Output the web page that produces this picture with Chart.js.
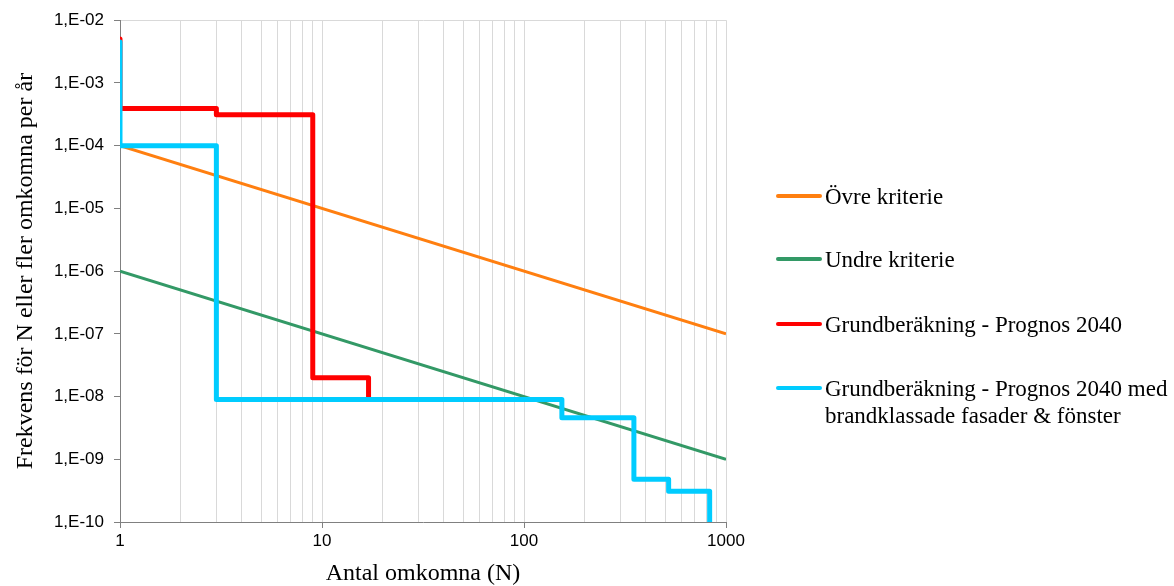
<!DOCTYPE html>
<html>
<head>
<meta charset="utf-8">
<script src="https://cdn.jsdelivr.net/npm/chart.js@4/dist/chart.umd.min.js"></script>
<style>
  html, body { margin: 0; padding: 0; background: #fff; }
  #wrap { position: relative; width: 1174px; height: 586px; }
  canvas { position: absolute; left: 0; top: 0; }
  .leg { position: absolute; left: 776px; font-family: "Liberation Serif", "Times New Roman", serif; font-size: 23px; color: #000; line-height: 27px; }
  .leg .sw { position: absolute; left: 0; width: 46px; height: 4px; border-radius: 2px; }
  .leg .tx { position: absolute; left: 49px; white-space: nowrap; }
</style>
</head>
<body>
<div id="wrap">
  <canvas id="c" width="1174" height="586"></canvas>
</div>
<script>
// ---- data ----
const seriesNames = ["Övre kriterie", "Undre kriterie", "Grundberäkning - Prognos 2040", "Grundberäkning - Prognos 2040 med brandklassade fasader & fönster"];
const seriesColors = ["#FF7F10", "#339966", "#FF0000", "#00CCFF"];

const upperN = [1, 1000];
const upperF = [1e-4, 1e-7];

const lowerN = [1, 1000];
const lowerF = [1e-6, 1e-9];

const baseN = [1, 1, 3, 3, 9, 9, 17, 17];
const baseF = [5e-3, 3.9e-4, 3.9e-4, 3.1e-4, 3.1e-4, 2e-8, 2e-8, 9e-9];

const fireN = [1, 1, 3, 3, 154, 154, 350, 350, 520, 520, 830, 830];
const fireF = [4.5e-3, 1e-4, 1e-4, 9e-9, 9e-9, 4.6e-9, 4.6e-9, 4.8e-10, 4.8e-10, 3.1e-10, 3.1e-10, 1e-10];

const xTickValues = [1,2,3,4,5,6,7,8,9,10,20,30,40,50,60,70,80,90,100,200,300,400,500,600,700,800,900,1000];
const xMajorTicks = [1, 10, 100, 1000];
const yTickValues = [1e-10, 1e-9, 1e-8, 1e-7, 1e-6, 1e-5, 1e-4, 1e-3, 1e-2];

const xTitle = "Antal omkomna (N)";
const yTitle = "Frekvens för N eller fler omkomna per år";

// ---- build ----
function pts(xs, ys) { return xs.map((x, i) => ({ x: x, y: ys[i] })); }
function isMajor(v) { return xMajorTicks.some(m => Math.abs(m - v) < 1e-9); }
function yLabel(v) {
  const e = Math.round(Math.log10(v));
  const s = e < 0 ? "-" : "+";
  return "1,E" + s + String(Math.abs(e)).padStart(2, "0");
}

const seriesData = [pts(upperN, upperF), pts(lowerN, lowerF), pts(baseN, baseF), pts(fireN, fireF)];
const widths = [3, 3, 5, 5];
const orders = [4, 3, 2, 1];

const datasets = seriesData.map((d, i) => ({
  label: seriesNames[i],
  data: d,
  showLine: true,
  borderColor: seriesColors[i],
  backgroundColor: seriesColors[i],
  borderWidth: widths[i],
  pointRadius: 0,
  pointHoverRadius: 0,
  tension: 0,
  borderJoinStyle: "round",
  borderCapStyle: "butt",
  order: orders[i],
  fill: false
}));

new Chart(document.getElementById("c"), {
  type: "scatter",
  data: { datasets: datasets },
  options: {
    responsive: false,
    animation: false,
    events: [],
    layout: { padding: { left: 0, right: 448, top: 18, bottom: 0 } },
    plugins: { legend: { display: false }, tooltip: { enabled: false } },
    scales: {
      x: {
        type: "logarithmic",
        min: 1, max: 1000,
        afterBuildTicks: (s) => { s.ticks = xTickValues.map(v => ({ value: v })); },
        afterFit: (s) => { s.height = 64; },
        ticks: {
          autoSkip: false, maxRotation: 0,
          color: "#000",
          font: { family: "'Liberation Sans', Arial, sans-serif", size: 17 },
          padding: 3,
          callback: (v) => isMajor(v) ? String(v) : ""
        },
        grid: {
          color: (ctx) => "#D9D9D9",
          tickColor: (ctx) => (ctx.tick && isMajor(ctx.tick.value)) ? "#808080" : "rgba(0,0,0,0)",
          tickLength: 6,
          lineWidth: 1
        },
        border: { color: "#808080", width: 1 },
        title: {
          display: true, text: xTitle, color: "#000",
          font: { family: "'Liberation Serif', 'Times New Roman', serif", size: 24, lineHeight: 1 },
          padding: { top: 0, bottom: 0 }
        }
      },
      y: {
        type: "logarithmic",
        min: 1e-10, max: 1e-2,
        afterBuildTicks: (s) => { s.ticks = yTickValues.map(v => ({ value: v })); },
        afterFit: (s) => { s.width = 120; },
        ticks: {
          autoSkip: false,
          color: "#000",
          font: { family: "'Liberation Sans', Arial, sans-serif", size: 17 },
          padding: 10,
          callback: (v) => yLabel(v)
        },
        grid: {
          color: (ctx) => (ctx.tick && Math.abs(Math.log10(ctx.tick.value) + 2) < 1e-6) ? "#D9D9D9" : "rgba(0,0,0,0)",
          tickColor: "#808080",
          tickLength: 6,
          lineWidth: 1
        },
        border: { color: "#808080", width: 1 },
        title: {
          display: true, text: yTitle, color: "#000",
          font: { family: "'Liberation Serif', 'Times New Roman', serif", size: 24 },
          padding: { top: 11, bottom: 0 }
        }
      }
    }
  }
});

// ---- HTML legend ----
const legY = [196, 259, 324, 388];
const wrap = document.getElementById("wrap");
const legLines = [["Övre kriterie"], ["Undre kriterie"], ["Grundberäkning - Prognos 2040"], ["Grundberäkning - Prognos 2040 med", "brandklassade fasader & fönster"]];
legLines.forEach((lines, i) => {
  const d = document.createElement("div");
  d.className = "leg";
  d.style.top = legY[i] + "px";
  const sw = document.createElement("div");
  sw.className = "sw";
  sw.style.background = seriesColors[i];
  sw.style.top = "-2px";
  d.appendChild(sw);
  const t = document.createElement("div");
  t.className = "tx";
  t.style.top = "-13.5px";
  t.innerHTML = lines.map(s => s.replace(/&/g, "&amp;")).join("<br>");
  d.appendChild(t);
  wrap.appendChild(d);
});
</script>
</body>
</html>
